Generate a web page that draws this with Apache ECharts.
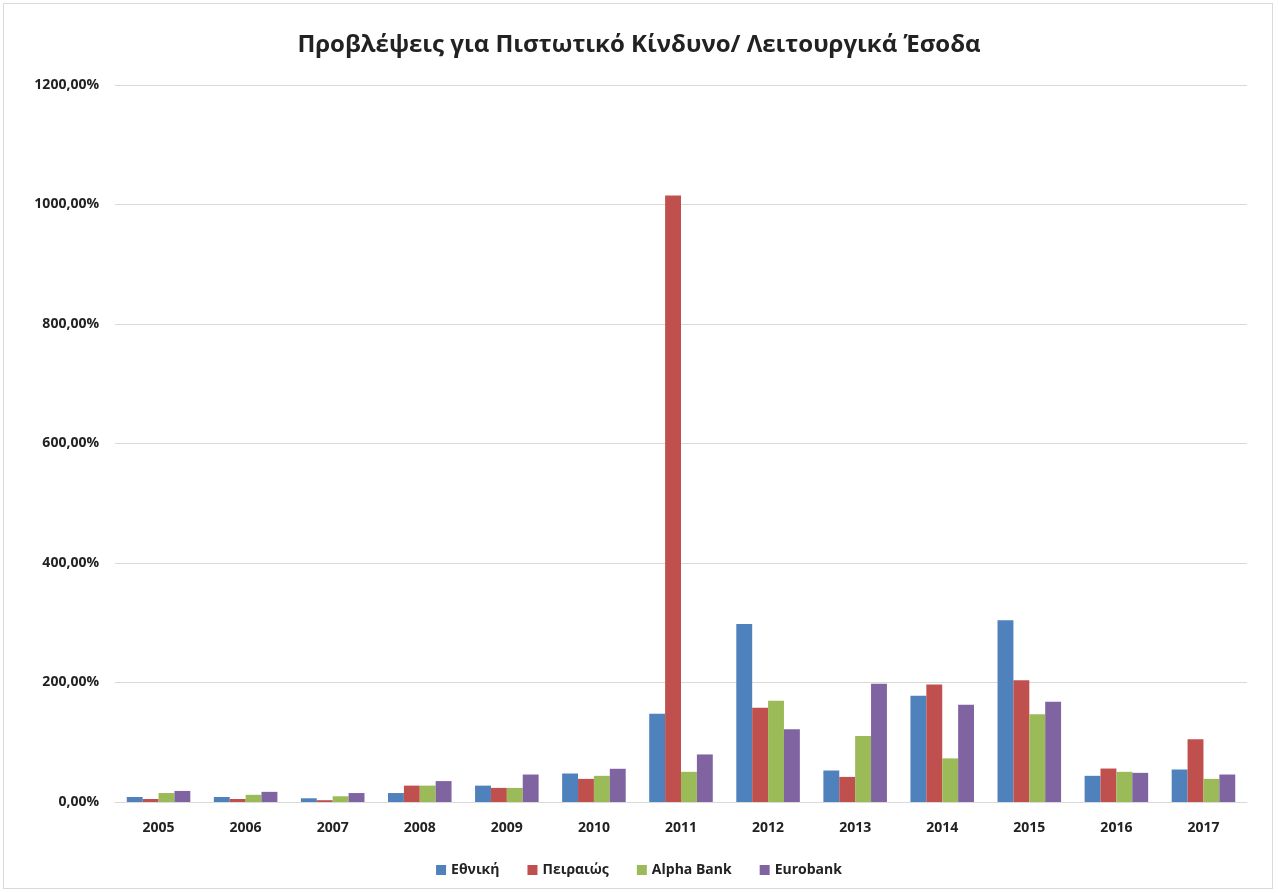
<!DOCTYPE html>
<html>
<head>
<meta charset="utf-8">
<script src="https://cdn.jsdelivr.net/npm/echarts@6/dist/echarts.min.js"></script>
<style>
  html, body { margin: 0; padding: 0; background: #fff; }
  #frame { position: absolute; left: 3px; top: 3px; width: 1270px; height: 886px; border: 1px solid #d9d9d9; box-sizing: border-box; }
  #chart { position: absolute; left: 0; top: 0; width: 1278px; height: 893px; }
</style>
</head>
<body>
<div id="frame"></div>
<div id="chart"></div>
<script>
// Years on the category axis
const years = ['2005','2006','2007','2008','2009','2010','2011','2012','2013','2014','2015','2016','2017'];

// Provisions for credit risk as a share of operating income (%)
const ethniki  = [8.4, 8.4, 6.2, 15, 27.4, 47.7, 147.6, 298, 52.7, 178, 304, 43.8, 54.4];
const peiraios = [5, 5, 3, 27.4, 23.6, 38.7, 1015, 157.7, 42, 196.5, 203.7, 56, 104.9];
const alpha    = [15, 12, 9.6, 27.4, 23.6, 43.8, 50.5, 169.5, 110.6, 73, 147, 50.5, 38.7];
const eurobank = [18.5, 17, 15, 35, 46, 55.6, 79.6, 121.7, 198, 162.8, 167.8, 48.8, 46];

const seriesNames = ['Εθνική', 'Πειραιώς', 'Alpha Bank', 'Eurobank'];
const colors = ['#4F81BD', '#C0504D', '#9BBB59', '#8064A2'];

const font = '"Open Sans", "Noto Sans", sans-serif';
const pct = v => v.toFixed(2).replace('.', ',') + '%';

const chart = echarts.init(document.getElementById('chart'));
chart.setOption({
  animation: false,
  color: colors,
  title: {
    text: 'Προβλέψεις για Πιστωτικό Κίνδυνο/ Λειτουργικά Έσοδα',
    left: 'center',
    top: 28,
    textStyle: { fontFamily: font, fontWeight: 'bold', fontSize: 24, color: '#222' }
  },
  legend: {
    bottom: 11,
    left: 'center',
    itemWidth: 10,
    itemHeight: 10,
    itemGap: 28,
    icon: 'rect',
    textStyle: { fontFamily: font, fontWeight: 'bold', fontSize: 14, color: '#222' },
    data: seriesNames
  },
  grid: { left: 115, right: 31, top: 85, bottom: 91 },
  xAxis: {
    type: 'category',
    data: years,
    axisTick: { show: false },
    axisLine: { lineStyle: { color: '#d9d9d9', width: 1 } },
    axisLabel: { margin: 19, fontFamily: font, fontWeight: 'bold', fontSize: 14, color: '#222' }
  },
  yAxis: {
    type: 'value',
    min: 0,
    max: 1200,
    interval: 200,
    axisLine: { show: false },
    axisTick: { show: false },
    splitLine: { lineStyle: { color: '#d9d9d9', width: 1 } },
    axisLabel: { margin: 16, formatter: pct, fontFamily: font, fontWeight: 'bold', fontSize: 14, color: '#222' }
  },
  series: [ethniki, peiraios, alpha, eurobank].map((d, i) => ({
    name: seriesNames[i],
    type: 'bar',
    data: d,
    barGap: '0%',
    barCategoryGap: '27%'
  }))
});
</script>
</body>
</html>
